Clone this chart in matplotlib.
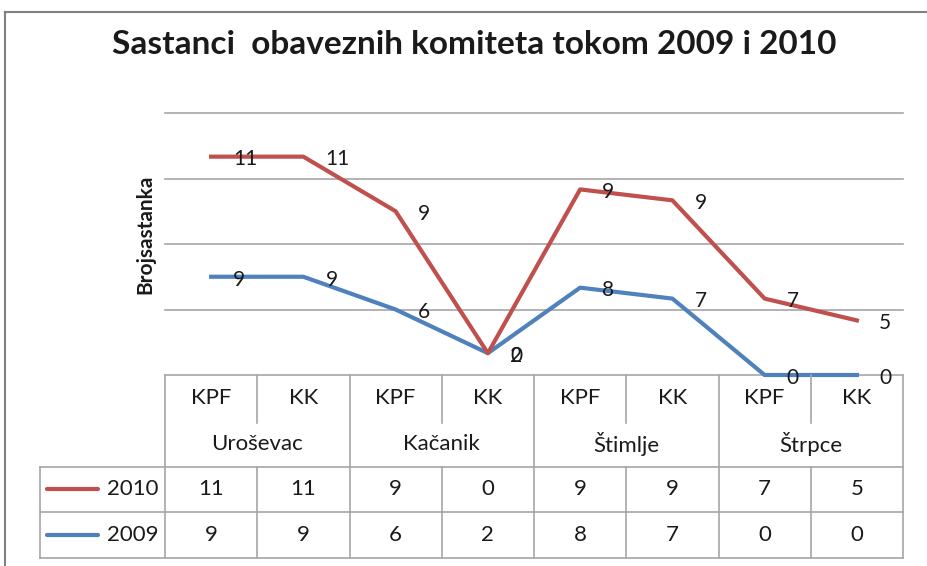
import numpy as np
import matplotlib.pyplot as plt
from matplotlib.lines import Line2D

plt.rcParams['font.family'] = ['Lato', 'DejaVu Sans']

title = 'Sastanci  obaveznih komiteta tokom 2009 i 2010'
ylabel = 'Brojsastanka'
cities = ['Uroševac', 'Kačanik', 'Štimlje', 'Štrpce']
committees = ['KPF', 'KK', 'KPF', 'KK', 'KPF', 'KK', 'KPF', 'KK']
series_names = ['2010', '2009']
values_2010 = [11, 11, 9, 0, 9, 9, 7, 5]
values_2009 = [9, 9, 6, 2, 8, 7, 0, 0]

red = '#c0504d'
blue = '#4f81bd'
grid_col = '#a6a6a6'
txt_col = '#1a1a1a'

W, H = 927, 566
fig = plt.figure(figsize=(W / 100, H / 100), dpi=100)


def px_box(x0, y0, x1, y1):
    # pixel box measured from top-left -> figure fraction rect
    return [x0 / W, 1 - y1 / H, (x1 - x0) / W, (y1 - y0) / H]


# chart border
fig.add_artist(Line2D([5 / W, 5 / W], [0, 1 - 12 / H], color='#808080', lw=1.5))
fig.add_artist(Line2D([5 / W, 1], [1 - 12 / H, 1 - 12 / H], color='#808080', lw=1.5))

fig.text(474 / W, 1 - 44 / H, title, ha='center', va='center',
         fontsize=24, fontweight='bold', color=txt_col)
fig.text(145 / W, 1 - 234 / H, ylabel, ha='center', va='center', rotation=90,
         fontsize=15, fontweight='bold', color=txt_col)

# plot area
ax = fig.add_axes(px_box(165, 113, 903, 375))
n = len(committees)
x = np.arange(n)
base = np.array(values_2009)
stacked = base + np.array(values_2010)

ax.set_xlim(-0.5, n - 0.5)
ax.set_ylim(0, 24)
ax.set_yticks([0, 6, 12, 18, 24])
ax.set_xticks([])
ax.tick_params(left=False, labelleft=False)
ax.grid(axis='y', color=grid_col, lw=1.2)
for gl in ax.get_ygridlines():
    gl.set_clip_on(False)
for s in ax.spines.values():
    s.set_visible(False)
ax.set_axisbelow(True)

ax.plot(x, base, color=blue, lw=3, solid_joinstyle='round', clip_on=False)
ax.plot(x, stacked, color=red, lw=3, solid_joinstyle='round', clip_on=False)

lab_fs = 15
for xi, yi, v in zip(x, stacked, values_2010):
    ax.annotate(str(v), (xi, yi), xytext=(16, -2), textcoords='offset points',
                ha='left', va='center', fontsize=lab_fs, color=txt_col,
                annotation_clip=False)
for xi, yi, v in zip(x, base, values_2009):
    ax.annotate(str(v), (xi, yi), xytext=(16, -2), textcoords='offset points',
                ha='left', va='center', fontsize=lab_fs, color=txt_col,
                annotation_clip=False)

# data table below the plot, same category scale
cat_px = (903 - 165) / n
left_edge = -0.5 - (165 - 40) / cat_px
tx = fig.add_axes(px_box(40, 375, 903, 558))
tx.set_xlim(left_edge, n - 0.5)
tx.set_ylim(4, 0)
tx.axis('off')

lkw = dict(color=grid_col, lw=1.2, clip_on=False)
for r in [2, 3, 4]:
    tx.plot([left_edge, n - 0.5], [r, r], **lkw)
tx.plot([left_edge, left_edge], [2, 4], **lkw)
tx.plot([-0.5, -0.5], [0, 4], **lkw)
for i in range(n):
    xb = i + 0.5
    if i % 2 == 1:
        tx.plot([xb, xb], [0, 4], **lkw)
    else:
        tx.plot([xb, xb], [0, 1.05], **lkw)
        tx.plot([xb, xb], [2, 4], **lkw)

fs = 16
for i, c in enumerate(committees):
    tx.text(i, 0.5, c, ha='center', va='center', fontsize=fs, color=txt_col)
for k, city in enumerate(cities):
    tx.text(2 * k + 0.5, 1.5, city, ha='center', va='center', fontsize=fs, color=txt_col)

rows = [(series_names[0], values_2010, red), (series_names[1], values_2009, blue)]
for r, (name, vals, col) in enumerate(rows):
    yr = 2.5 + r
    for i, v in enumerate(vals):
        tx.text(i, yr, str(v), ha='center', va='center', fontsize=fs, color=txt_col)
    tx.annotate(name, (-0.5, yr), xytext=(-5, 0), textcoords='offset points',
                ha='right', va='center', fontsize=fs, color=txt_col)
    x0 = left_edge + 7 / cat_px
    x1 = left_edge + 58 / cat_px
    tx.plot([x0, x1], [yr, yr], color=col, lw=3, solid_capstyle='round')

fig.savefig('out.png', dpi=100)
